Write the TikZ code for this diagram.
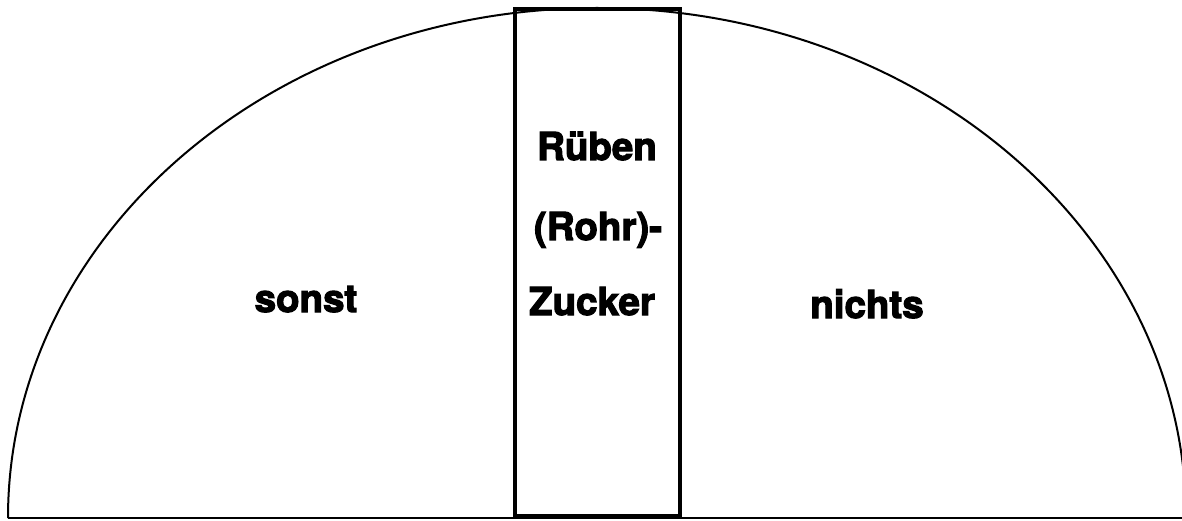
\documentclass[tikz,border=0pt]{standalone}
\usepackage{fontspec}
\setmainfont{TeX Gyre Heros}[BoldFeatures={FakeBold=3}]
\begin{document}
\begin{tikzpicture}[x=1pt,y=1pt,
  label/.style={font=\fontsize{38.5}{40}\selectfont\bfseries, inner sep=0pt, anchor=base},
  outline/.style={draw=black, line width=2pt},
  band/.style={draw=black, line width=4.5pt}]
\useasboundingbox (0,0) rectangle (1182,520);
\clip (0,0) rectangle (1182,520);
% half ellipse with its base line
\draw[outline] (8,2) arc[start angle=180, end angle=0, x radius=589, y radius=510];
\draw[outline] (8,2) -- (1182,2);
% central band
\draw[band] (515,4) rectangle (680,511);
% labels
\node[label] (left) at (306,208) {sonst};
\node[label] (right) at (867,202) {nichts};
\node[label] (l1) at (597,360) {Rüben};
\node[label] (l2) at (598,280) {(Rohr)-};
\node[label] (l3) at (592,205) {Zucker};
\end{tikzpicture}
\end{document}
